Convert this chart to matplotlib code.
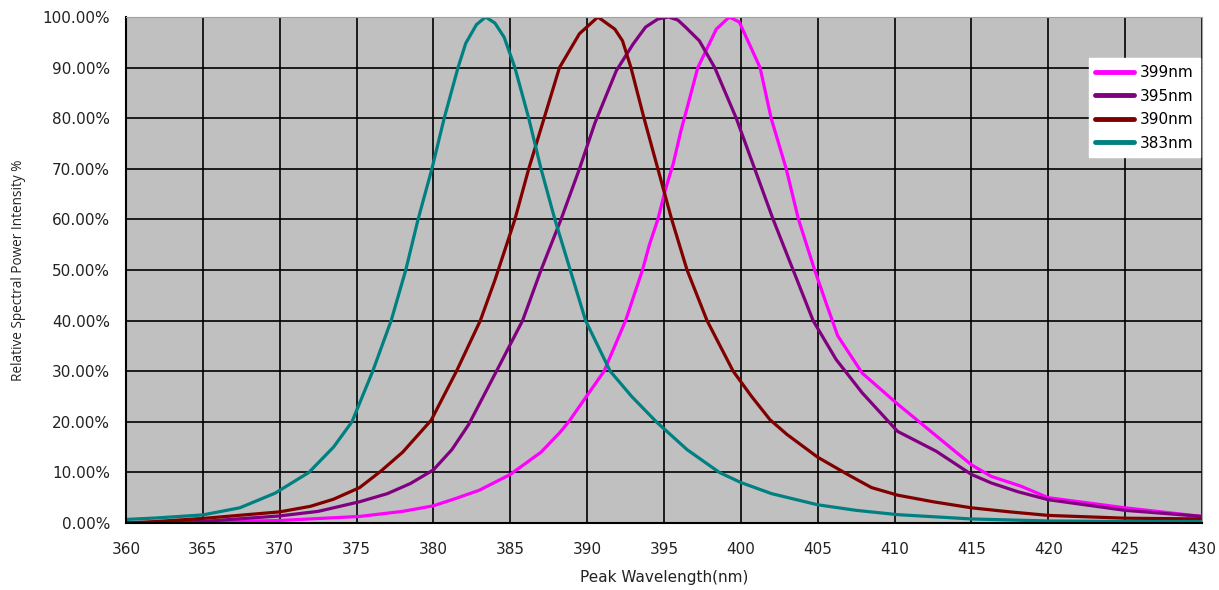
import matplotlib
matplotlib.use("Agg")
import matplotlib.pyplot as plt

plt.rcParams['font.family'] = ['DejaVu Sans']

wl_383 = [360, 362, 365, 367.4, 369.7, 371.9, 373.5, 374.7, 376.05, 377.25, 378.2, 379.0, 379.9, 380.7, 381.6, 382.1, 382.8, 383.4,
          384.0, 384.6, 385.3, 386.2, 387.0, 387.9, 388.9, 389.9, 391.5, 392.9, 394.5, 396.5, 398.6, 400, 402, 405, 407.5,
          410.2, 415, 420, 425, 430]
pct_383 = [0.7, 1.0, 1.6, 3.0, 5.9, 10.0, 15.0, 20.0, 30.0, 40.0, 50.0, 60.0, 70.0, 80.0, 90.0, 94.8, 98.5, 100.0,
           98.8, 96.0, 90.0, 80.0, 70.0, 60.0, 50.0, 40.0, 30.0, 25.0, 20.0, 14.5, 10.0, 8.0, 5.8, 3.6, 2.5,
           1.65, 0.8, 0.4, 0.3, 0.3]

wl_390 = [360, 362, 365, 370, 372, 373.5, 375.2, 376.6, 378, 379.85, 381.5, 383.05, 384.0, 384.76, 385.3, 386.2, 387.2, 388.2,
          389.5, 390.7, 391.8, 392.3, 392.85, 393.7, 394.6, 395.5, 396.5, 397.8, 399.5, 400.7, 401.9, 403, 405, 407, 408.5,
          410.2, 412.5, 415, 417.5, 420, 425, 430]
pct_390 = [0.0, 0.3, 0.9, 2.2, 3.3, 4.7, 7.0, 10.3, 14.0, 20.3, 30.0, 40.0, 48.0, 55.0, 60.0, 70.0, 80.0, 90.0,
           96.7, 100.0, 97.6, 95.3, 90.0, 80.0, 70.0, 60.0, 50.0, 40.0, 30.0, 25.0, 20.4, 17.5, 13.0, 9.5, 7.0,
           5.5, 4.2, 3.0, 2.2, 1.5, 0.95, 0.8]

wl_395 = [360, 365, 370, 372.5, 375.2, 377, 378.5, 380, 381.2, 382.3, 384.1, 385.8, 387.0, 387.65, 388.3, 389.5, 390.5, 391.9,
          393.0, 393.8, 394.6, 395.3, 395.9, 396.4, 397.3, 398.3, 399.7, 400.9, 402.1, 403.4, 404.7, 406.2, 407.9, 409.5,
          410.2, 412.7, 415, 416.3, 418, 420, 425, 430]
pct_395 = [0.0, 0.3, 1.4, 2.3, 4.2, 5.8, 7.8, 10.5, 14.5, 19.5, 30.0, 40.0, 50.0, 55.0, 60.0, 70.0, 79.0, 89.4,
           94.7, 98.0, 99.6, 100.0, 99.4, 98.0, 95.3, 90.0, 80.0, 70.0, 60.0, 50.0, 40.0, 32.3, 25.7, 20.4,
           18.1, 14.2, 9.6, 7.9, 6.2, 4.6, 2.5, 1.3]

wl_399 = [360, 365, 370, 375.2, 378, 380, 381.5, 383.0, 385.0, 387, 388.2, 388.8, 391.1, 392.5, 393.6, 394.05, 394.6, 395.1,
          395.6, 396.1, 396.5, 397.2, 398.4, 399.25, 399.9, 400.5, 401.25, 401.97, 402.95, 403.75, 404.8, 405.6, 406.3,
          407.9, 410.2, 413, 415, 416.3, 418.2, 420, 425, 430]
pct_399 = [0.0, 0.2, 0.5, 1.3, 2.3, 3.4, 4.9, 6.5, 9.6, 14.0, 17.8, 20.0, 30.0, 40.0, 50.0, 55.0, 60.0, 66.0,
           71.0, 77.5, 82.0, 90.0, 97.6, 100.0, 99.0, 95.0, 90.0, 80.0, 70.0, 60.0, 50.0, 43.0, 37.0,
           29.6, 23.5, 16.5, 11.5, 9.2, 7.3, 5.0, 3.0, 1.3]

series = [
    ("399nm", wl_399, pct_399, "#FF00FF"),
    ("395nm", wl_395, pct_395, "#800080"),
    ("390nm", wl_390, pct_390, "#800000"),
    ("383nm", wl_383, pct_383, "#008080"),
]

x_ticks = list(range(360, 431, 5))
y_ticks = list(range(0, 101, 10))

fig = plt.figure(figsize=(12.19, 5.90), dpi=100)
ax = fig.add_axes([126/1219, 1 - 523/590, (1202-126)/1219, (523-17)/590])
ax.set_facecolor("#C0C0C0")

for label, xs, ys, c in series:
    ax.plot(xs, ys, color=c, lw=2.3, label=label, solid_joinstyle='round', solid_capstyle='round')

ax.set_xlim(360, 430)
ax.set_ylim(0, 100)
ax.set_xticks(x_ticks)
ax.set_yticks(y_ticks)
ax.set_yticklabels([f"{v:.2f}%" for v in y_ticks])
ax.grid(True, color="black", lw=1.2)
ax.set_axisbelow(True)
ax.tick_params(axis='both', length=0, labelsize=11, labelcolor="#222222")
ax.tick_params(axis='x', pad=14)
ax.tick_params(axis='y', pad=11.5)
for s in ['top', 'right']:
    ax.spines[s].set_color("#A0A0A0")
for s in ['left', 'bottom']:
    ax.spines[s].set_color("black")
    ax.spines[s].set_linewidth(1.5)

ax.set_xlabel("Peak Wavelength(nm)", fontsize=11, labelpad=9, color="#222222")
ax.set_ylabel("Relative Spectral Power Intensity %", fontsize=9.8, labelpad=11.5,
              family=['Open Sans', 'DejaVu Sans'], color="#222222")

leg = ax.legend(loc='upper right', bbox_to_anchor=(0.9985, 0.918), frameon=True, fancybox=False,
                framealpha=1, edgecolor='white', fontsize=11, handlelength=2.5,
                labelspacing=0.55, borderpad=0.45, handletextpad=0.4, borderaxespad=0.0)
for line in leg.get_lines():
    line.set_linewidth(3.5)

fig.savefig("out.png", dpi=100)
